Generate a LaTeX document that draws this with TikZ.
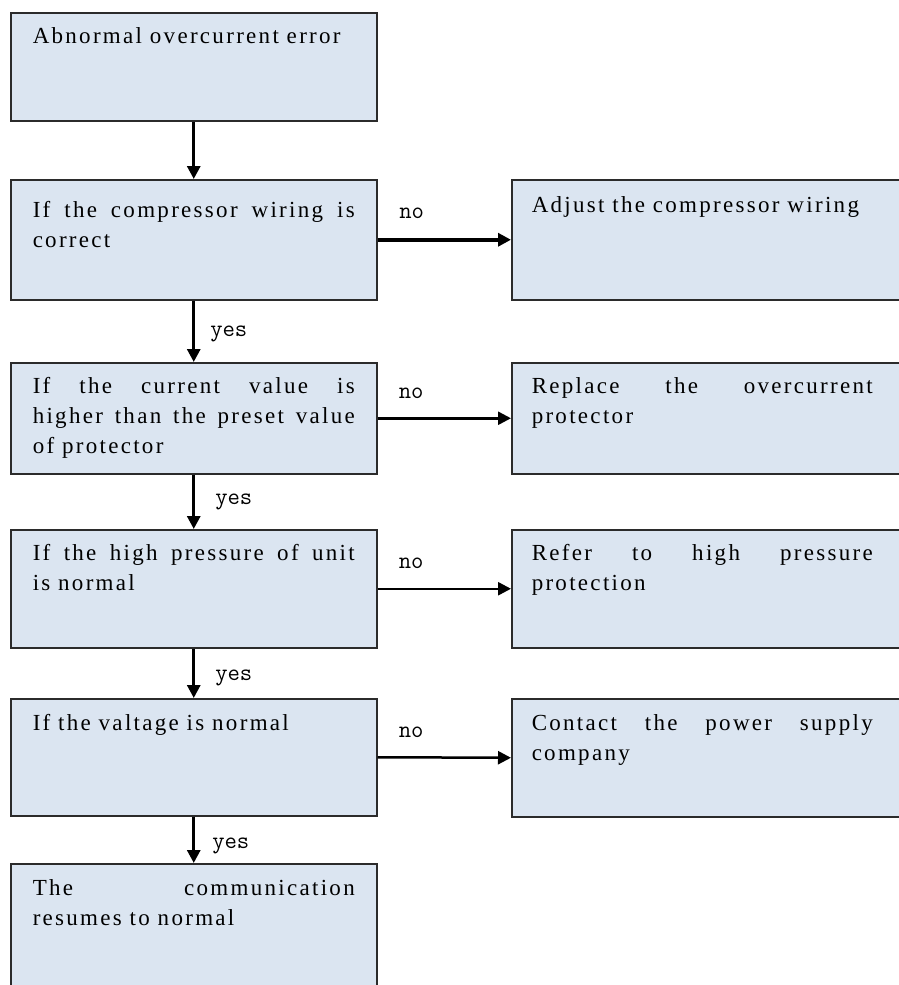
\documentclass[tikz,border=0pt]{standalone}
\usepackage{fontspec}
\setmainfont{Liberation Serif}[LetterSpace=10]
\usetikzlibrary{arrows.meta}
\definecolor{boxfill}{HTML}{DBE5F1}
\definecolor{boxline}{HTML}{2B2B2B}
\newcommand\btext[2]{\parbox[t]{#1}{\leftskip=0pt \rightskip=0pt \parfillskip=0pt plus 1fil
  \spaceskip=0.34em plus 10em minus 0.05em \xspaceskip=\spaceskip
  \hyphenpenalty=10000 \exhyphenpenalty=10000 \tolerance=10000 #2}}
\tikzset{
  flowbox/.style={draw=boxline, line width=1.5pt, fill=boxfill, anchor=north west,
    inner xsep=22pt, inner ysep=0pt, text width=322pt, align=left,
    font=\fontsize{23}{30}\selectfont},
  rbox/.style={flowbox, inner xsep=20pt, text width=380pt},
  arr/.style={line width=3pt, -{Triangle[length=13pt,width=13pt]}},
  thinarr/.style={arr, line width=2.5pt},
  lblfnt/.style={font=\ttfamily\fontsize{24}{26}\selectfont, inner sep=0pt},
  nolbl/.style={lblfnt, pos=0, anchor=base west, xshift=20pt, yshift=20pt},
  yeslbl/.style={lblfnt, pos=0, anchor=base west, xshift=15pt, yshift=-32pt},
}
\begin{document}
\begin{tikzpicture}[x=1pt,y=-1pt]
\useasboundingbox (0,0) rectangle (899,985);
% left column
\node[flowbox, text height=31pt, text depth=77pt] (b1) at (10,12)
  {\btext{322pt}{Abnormal overcurrent error}};
\node[flowbox, text height=38pt, text depth=82pt] (b2) at (10,179)
  {\btext{322pt}{If the compressor wiring is\linebreak correct}};
\node[flowbox, text height=31pt, text depth=80pt] (b3) at (10,362)
  {\btext{322pt}{If the current value is\linebreak higher than the preset value\linebreak of protector}};
\node[flowbox, text height=31pt, text depth=87pt] (b4) at (10,529)
  {\btext{322pt}{If the high pressure of unit\linebreak is normal}};
\node[flowbox, text height=32pt, text depth=85pt] (b5) at (10,698)
  {\btext{322pt}{If the valtage is normal}};
\node[flowbox, text height=32pt, text depth=110pt] (b6) at (10,863)
  {\btext{322pt}{The communication\linebreak resumes to normal}};
% right column
\node[rbox, text height=33pt, text depth=87pt] (r1) at (511,179)
  {\btext{341pt}{Adjust the compressor wiring}};
\node[rbox, text height=31pt, text depth=80pt] (r2) at (511,362)
  {\btext{341pt}{Replace the overcurrent\linebreak protector}};
\node[rbox, text height=31pt, text depth=87pt] (r3) at (511,529)
  {\btext{341pt}{Refer to high pressure\linebreak protection}};
\node[rbox, text height=32pt, text depth=86pt] (r4) at (511,698)
  {\btext{341pt}{Contact the power supply\linebreak company}};
% connectors
\draw[arr] (b1.south) -- (b2.north);
\draw[arr] (b2.south) -- node[yeslbl, yshift=-4pt] (y1) {yes} (b3.north);
\draw[arr] (b3.south) -- node[yeslbl, xshift=5pt, yshift=2pt] (y2) {yes} (b4.north);
\draw[arr] (b4.south) -- node[yeslbl, xshift=5pt] (y3) {yes} (b5.north);
\draw[arr] (b5.south) -- node[yeslbl, xshift=2pt] (y4) {yes} (b6.north);
\draw[arr, line width=3.5pt] (b2.east) -- node[nolbl, yshift=1pt] (n1) {no} (r1.west);
\draw[thinarr] (b3.east) -- node[nolbl] (n2) {no} (r2.west);
\draw[thinarr] (b4.east) -- node[nolbl] (n3) {no} (r3.west);
\draw[thinarr] (b5.east) -- node[nolbl] (n4) {no} (r4.west);
\end{tikzpicture}
\end{document}
